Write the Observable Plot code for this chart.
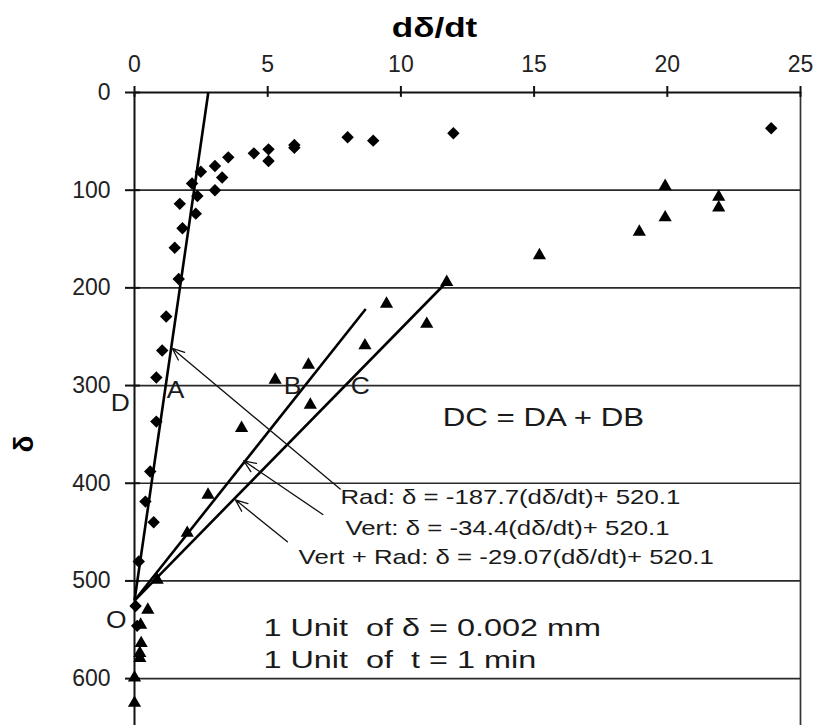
<!DOCTYPE html>
<html><head><meta charset="utf-8">
<script src="https://cdn.jsdelivr.net/npm/d3@7"></script>
<script src="https://cdn.jsdelivr.net/npm/@observablehq/plot@0.6"></script>
<style>html,body{margin:0;padding:0;background:#fff;} svg{display:block;}</style>
</head><body><div id="chart"></div>
<script>
// ---- data ----
const xTicks = [0, 5, 10, 15, 20, 25];
const yTicks = [0, 100, 200, 300, 400, 500, 600];

// Radial (diamonds)
const radRate  = [23.9, 11.97, 8.96, 8.0, 6.0, 6.0, 5.03, 4.48, 5.03, 3.52, 3.02, 3.29, 2.49, 2.16, 3.02, 2.36, 2.3, 1.7, 1.8, 1.51, 1.66, 1.19, 1.04, 0.82, 0.82, 0.59, 0.41, 0.72, 0.16, 0.04, 0.1];
const radDelta = [36.6, 41.8, 49.3, 45.9, 53.8, 56.5, 58.2, 62.3, 70.2, 66.4, 75.3, 87, 81.2, 93.2, 100, 106, 124, 114, 139, 159, 191, 229.4, 264.2, 291.8, 336.9, 388, 418.8, 440, 480.2, 525.6, 546];

// Vertical + radial (triangles)
const triRate  = [21.93, 21.93, 19.92, 19.92, 18.95, 15.2, 11.72, 9.46, 10.97, 8.65, 6.53, 5.28, 6.6, 4.02, 2.76, 1.98, 0.85, 0.5, 0.23, 0.25, 0.2, 0.2, 0, 0];
const triDelta = [106.9, 117.8, 95.9, 128, 142.8, 166.8, 194.2, 216.5, 237, 259, 278.8, 294.2, 319.8, 343.7, 412, 451, 499, 529.7, 545, 563.8, 574, 579, 599, 625];

// fitted lines (as drawn)
const fitNames  = ["Rad", "Vert", "Vert + Rad"];
const fitRate0  = [0, 0, 0];
const fitDelta0 = [520.1, 520.1, 520.1];
const fitRate1  = [2.77, 8.68, 11.72];
const fitDelta1 = [0, 221.6, 194];

// leader arrows from the equations to the lines
const arrowFromRate  = [7.72, 7.07, 5.74];
const arrowFromDelta = [406, 432, 460];
const arrowToRate    = [1.42, 4.1, 3.79];
const arrowToDelta   = [262, 377, 417];

const equations = ["Rad: δ = -187.7(dδ/dt)+ 520.1", "Vert: δ = -34.4(dδ/dt)+ 520.1", "Vert + Rad: δ = -29.07(dδ/dt)+ 520.1"];
const eqRate  = [7.73, 7.92, 6.16];
const eqDelta = [414.3, 446.3, 475.7];

const pointLabels = ["A", "B", "C", "D", "O"];
const labelRate  = [1.54, 5.93, 8.48, -0.53, -0.68];
const labelDelta = [305, 301, 301, 318, 540];

const noteText  = ["1 Unit  of δ = 0.002 mm", "1 Unit  of  t = 1 min"];
const noteRate  = [4.84, 4.84];
const noteDelta = [548.7, 581.5];

const relation = ["DC = DA + DB"];
const relationRate = [15.35];
const relationDelta = [332.7];

// ---- tables built from the arrays ----
const rad = radRate.map((r, i) => ({rate: r, delta: radDelta[i]}));
const tri = triRate.map((r, i) => ({rate: r, delta: triDelta[i]}));
const fits = fitNames.map((n, i) => ({name: n, x1: fitRate0[i], y1: fitDelta0[i], x2: fitRate1[i], y2: fitDelta1[i]}));
const arrows = equations.map((e, i) => ({x1: arrowFromRate[i], y1: arrowFromDelta[i], x2: arrowToRate[i], y2: arrowToDelta[i]}));
const eqs = equations.map((e, i) => ({text: e, rate: eqRate[i], delta: eqDelta[i]}));
const labs = pointLabels.map((t, i) => ({text: t, rate: labelRate[i], delta: labelDelta[i]}));
const notes = noteText.map((t, i) => ({text: t, rate: noteRate[i], delta: noteDelta[i]}));
const rel = relation.map((t, i) => ({text: t, rate: relationRate[i], delta: relationDelta[i]}));

const ink = "#111";
const plot = Plot.plot({
  width: 814, height: 725,
  marginTop: 92, marginLeft: 134, marginRight: 14, marginBottom: 0,
  x: {domain: [0, 25]},
  y: {domain: [0, 648], reverse: true},
  style: {fontFamily: "'Liberation Sans', Arial, sans-serif", background: "#fff", color: ink, overflow: "visible"},
  marks: [
    Plot.ruleY(yTicks.filter(d => d > 0), {x1: 0, x2: 25, stroke: "#2a2a2a", strokeWidth: 1.7}),
    Plot.ruleY([0], {x1: 0, x2: 25, stroke: ink, strokeWidth: 2}),
    Plot.ruleX([25], {y1: 0, y2: 648, stroke: "#333", strokeWidth: 1.7}),
    Plot.ruleX([0], {y1: 0, y2: 648, stroke: ink, strokeWidth: 2}),
    Plot.axisX(xTicks, {anchor: "top", tickSize: 7, tickPadding: 14, fontSize: 23, label: null, stroke: ink, strokeWidth: 2, fill: "#222"}),
    Plot.ruleX(xTicks, {y1: 0, y2: 5, stroke: ink, strokeWidth: 2}),
    Plot.axisY(yTicks, {anchor: "left", tickSize: 9, tickPadding: 15, fontSize: 23, label: null, stroke: ink, strokeWidth: 2, fill: "#222"}),
    Plot.ruleY(yTicks, {x1: 0, x2: 0.22, stroke: ink, strokeWidth: 2}),
    Plot.link(fits, {x1: "x1", y1: "y1", x2: "x2", y2: "y2", stroke: "#000", strokeWidth: 2.6}),
    Plot.arrow(arrows, {x1: "x1", y1: "y1", x2: "x2", y2: "y2", stroke: ink, strokeWidth: 1.3, headLength: 15, headAngle: 45}),
    Plot.dot(rad, {x: "rate", y: "delta", symbol: "diamond2", r: 5.6, fill: "#000", stroke: "none"}),
    Plot.dot(tri, {x: "rate", y: "delta", symbol: "triangle", r: 4.9, fill: "#000", stroke: "none"}),
    Plot.text(eqs, {x: "rate", y: "delta", text: "text", textAnchor: "start", lineAnchor: "middle", fontSize: 20, fill: "#1a1a1a"}),
    Plot.text(labs, {x: "rate", y: "delta", text: "text", textAnchor: "middle", lineAnchor: "middle", fontSize: 24, fill: "#1a1a1a"}),
    Plot.text(notes, {x: "rate", y: "delta", text: "text", textAnchor: "start", lineAnchor: "middle", fontSize: 24, fill: "#1a1a1a"}),
    Plot.text(rel, {x: "rate", y: "delta", text: "text", textAnchor: "middle", lineAnchor: "middle", fontSize: 25, fill: "#1a1a1a"}),
    Plot.text(["dδ/dt"], {frameAnchor: "top", lineAnchor: "middle", dx: -33, dy: -64, fontSize: 27, fontWeight: "bold", fill: "#000"}),
    Plot.text(["δ"], {frameAnchor: "left", lineAnchor: "middle", textAnchor: "middle", dx: -110, dy: 35, rotate: -90, fontSize: 28, fontWeight: "bold", fill: "#000"})
  ]
});
document.getElementById("chart").appendChild(plot);

// horizontal stretch of text as in the reference (text groups in mark order)
const textGroups = plot.querySelectorAll('g[aria-label="text"]');
function stretch(g, sx) {
  if (!g) return;
  g.querySelectorAll("text").forEach(t => {
    let tr = t.getAttribute("transform") || "";
    const xa = t.getAttribute("x");
    if (xa !== null && /^-?[\d.]+$/.test(xa) && +xa !== 0) {
      // move a pixel x into the translation so that scaling keeps the anchor
      tr += ` translate(${+xa},0)`;
      t.setAttribute("x", 0);
    }
    t.setAttribute("transform", `${tr} scale(${sx},1)`);
  });
}
stretch(textGroups[0], 1.29); // equations
stretch(textGroups[1], 1.1);  // point labels
stretch(textGroups[2], 1.35); // unit notes
stretch(textGroups[3], 1.25); // DC = DA + DB
stretch(textGroups[4], 1.3);  // x title
</script>
</body></html>
